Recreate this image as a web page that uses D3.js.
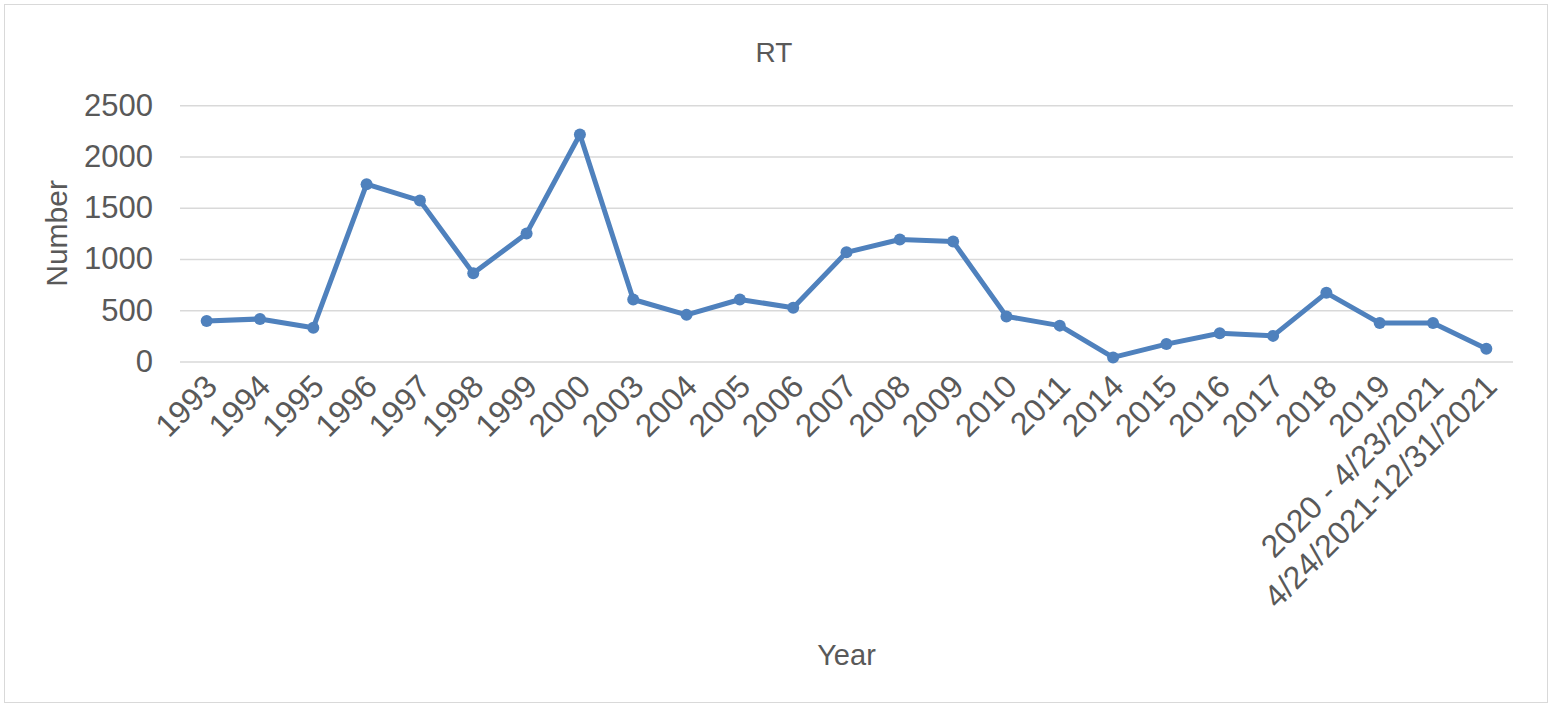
<!DOCTYPE html>
<html>
<head>
<meta charset="utf-8">
<script src="https://cdn.jsdelivr.net/npm/d3@7"></script>
<style>
  body { margin: 0; background: #fff; }
  text { font-family: "Liberation Sans", Arial, sans-serif; fill: #595959; }
</style>
</head>
<body>
<svg id="chart"></svg>
<script>
// values
const categories = ['1993', '1994', '1995', '1996', '1997', '1998', '1999', '2000', '2003', '2004',
  '2005', '2006', '2007', '2008', '2009', '2010', '2011', '2014', '2015', '2016', '2017', '2018',
  '2019', '2020 - 4/23/2021', '4/24/2021-12/31/2021'];
const rtValues = [395, 415, 330, 1730, 1570, 860, 1250, 2215, 605, 455,
  605, 525, 1065, 1190, 1170, 440, 350, 40, 170, 275, 250, 670,
  375, 375, 125];
const yTicks = [0, 500, 1000, 1500, 2000, 2500];

const width = 1552, height = 705;
const margin = { top: 105.3, right: 39, bottom: 343.5, left: 180 };

const svg = d3.select('#chart')
    .attr('width', width)
    .attr('height', height);

// outer chart border
svg.append('rect')
    .attr('x', 4.5).attr('y', 4.5)
    .attr('width', width - 9).attr('height', height - 7)
    .attr('fill', '#fff')
    .attr('stroke', '#d9d9d9');

const xScale = d3.scalePoint()
    .domain(categories)
    .range([margin.left, width - margin.right])
    .padding(0.5);

const yScale = d3.scaleLinear()
    .domain([0, 2500])
    .range([height - margin.bottom, margin.top]);

// gridlines + y labels
const yAxis = d3.axisLeft(yScale)
    .tickValues(yTicks)
    .tickFormat(d3.format('d'))
    .tickSize(-(width - margin.left - margin.right))
    .tickPadding(27);

const yAxisG = svg.append('g')
    .attr('transform', `translate(${margin.left},0)`)
    .call(yAxis);
yAxisG.select('.domain').remove();
yAxisG.selectAll('.tick line').attr('stroke', '#d9d9d9').attr('stroke-width', 1.5);
yAxisG.selectAll('.tick text')
    .style('font-size', '31px')
    .attr('fill', '#595959');

// x labels, rotated
const xAxis = d3.axisBottom(xScale).tickSize(0).tickPadding(0);
const xAxisG = svg.append('g')
    .attr('transform', `translate(0,${height - margin.bottom})`)
    .call(xAxis);
xAxisG.select('.domain').remove();
xAxisG.selectAll('.tick text')
    .style('font-size', '32px')
    .attr('fill', '#595959')
    .attr('text-anchor', 'end')
    .attr('dy', '0.35em')
    .attr('transform', 'translate(4,19) rotate(-45)');

// line + markers
const line = d3.line()
    .x((d, i) => xScale(categories[i]))
    .y(d => yScale(d));

svg.append('path')
    .datum(rtValues)
    .attr('fill', 'none')
    .attr('stroke', '#4f81bd')
    .attr('stroke-width', 5)
    .attr('stroke-linejoin', 'round')
    .attr('d', line);

svg.append('g').selectAll('circle')
    .data(rtValues)
    .join('circle')
    .attr('cx', (d, i) => xScale(categories[i]))
    .attr('cy', d => yScale(d))
    .attr('r', 6)
    .attr('fill', '#4f81bd');

// titles
svg.append('text')
    .attr('x', 774).attr('y', 62)
    .attr('text-anchor', 'middle')
    .style('font-size', '28px')
    .text('RT');

svg.append('text')
    .attr('transform', `translate(67,${(yScale(0) + yScale(2500)) / 2}) rotate(-90)`)
    .attr('text-anchor', 'middle')
    .style('font-size', '30px')
    .text('Number');

svg.append('text')
    .attr('x', (margin.left + width - margin.right) / 2).attr('y', 665)
    .attr('text-anchor', 'middle')
    .style('font-size', '29px')
    .text('Year');
</script>
</body>
</html>
